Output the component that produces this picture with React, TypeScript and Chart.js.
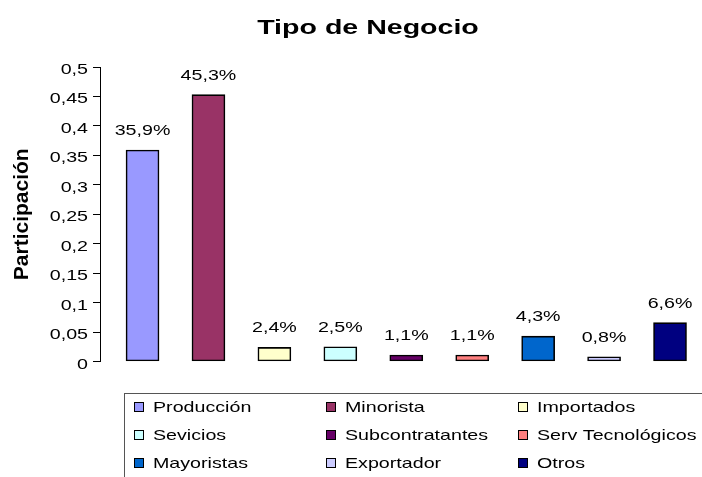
import React, { useEffect, useRef } from 'react';
import { Chart, registerables } from 'chart.js';

Chart.register(...registerables);

const chartTitle = 'Tipo de Negocio';
const yAxisTitle = 'Participación';
const categories = [
  'Producción',
  'Minorista',
  'Importados',
  'Sevicios',
  'Subcontratantes',
  'Serv Tecnológicos',
  'Mayoristas',
  'Exportador',
  'Otros',
];
const values = [0.359, 0.453, 0.024, 0.025, 0.011, 0.011, 0.043, 0.008, 0.066];
const barColors = [
  '#9999FF',
  '#993366',
  '#FFFFCC',
  '#CCFFFF',
  '#660066',
  '#FF8080',
  '#0066CC',
  '#CCCCFF',
  '#000080',
];
const yTickValues = [0, 0.05, 0.1, 0.15, 0.2, 0.25, 0.3, 0.35, 0.4, 0.45, 0.5];
const yTickLabels = ['0', '0,05', '0,1', '0,15', '0,2', '0,25', '0,3', '0,35', '0,4', '0,45', '0,5'];

const FONT = '"Liberation Sans", Arial, Helvetica, sans-serif';

function fmtPct(v: number) {
  return (v * 100).toFixed(1).replace('.', ',') + '%';
}

function stretchText(
  ctx: CanvasRenderingContext2D,
  text: string,
  x: number,
  y: number,
  align: CanvasTextAlign,
  font: string,
  sx: number
) {
  ctx.save();
  ctx.font = font;
  ctx.fillStyle = '#000';
  ctx.textAlign = align;
  ctx.textBaseline = 'alphabetic';
  ctx.translate(x, y);
  ctx.scale(sx, 1);
  ctx.fillText(text, 0, 0);
  ctx.restore();
}

const textPlugin = {
  id: 'refText',
  afterDraw(chart: any) {
    const ctx: CanvasRenderingContext2D = chart.ctx;
    const small = `15px ${FONT}`;
    const SX = 1.31;
    // title
    stretchText(ctx, chartTitle, 368, 34, 'center', `bold 21px ${FONT}`, 1.36);
    // y tick labels
    const ys = chart.scales.y;
    yTickValues.forEach((v, i) => {
      stretchText(ctx, yTickLabels[i], 88, ys.getPixelForValue(v) + 7, 'right', small, SX);
    });
    // value labels
    const meta = chart.getDatasetMeta(0);
    meta.data.forEach((bar: any, i: number) => {
      stretchText(ctx, fmtPct(values[i]), bar.x, bar.y - 15, 'center', small, SX);
    });
    // legend
    ctx.save();
    ctx.strokeStyle = '#555';
    ctx.lineWidth = 1;
    ctx.strokeRect(124.5, 393.5, 700, 200);
    ctx.restore();
    categories.forEach((c, i) => {
      const col = i % 3;
      const row = Math.floor(i / 3);
      const tx = 153 + col * 192;
      const cy = 407 + row * 28;
      const sx = tx - 19;
      const sy = cy - 5;
      ctx.save();
      ctx.fillStyle = barColors[i];
      ctx.fillRect(sx, sy, 10, 10);
      ctx.strokeStyle = '#000';
      ctx.lineWidth = 1;
      ctx.strokeRect(sx + 0.5, sy + 0.5, 9, 9);
      ctx.restore();
      stretchText(ctx, c, tx, cy + 5, 'left', small, SX);
    });
  },
};

export default function App() {
  const ref = useRef<HTMLCanvasElement>(null);

  useEffect(() => {
    const canvas = ref.current;
    if (!canvas) return;
    const chart = new Chart(canvas, {
      type: 'bar',
      data: {
        labels: categories,
        datasets: [
          {
            label: chartTitle,
            data: values.map((v, i) => ({ x: i, y: v })) as any,
            backgroundColor: barColors,
            borderColor: '#000',
            borderWidth: 1.6,
            borderSkipped: false,
            barThickness: 33,
          } as any,
        ],
      },
      options: {
        responsive: false,
        animation: false,
        devicePixelRatio: 1,
        layout: { padding: { top: 67, bottom: 115.5, left: 0, right: 0 } },
        plugins: {
          legend: { display: false },
          title: { display: false },
          tooltip: { enabled: false },
        },
        scales: {
          x: {
            type: 'linear',
            offset: false,
            min: -0.645,
            max: 8.485,
            display: false,
          },
          y: {
            type: 'linear',
            min: 0,
            max: 0.5,
            ticks: { display: false, stepSize: 0.05 },
            afterBuildTicks: (scale: any) => {
              scale.ticks = yTickValues.map((v) => ({ value: v }));
            },
            afterFit: (scale: any) => {
              scale.width = 100;
            },
            grid: {
              drawOnChartArea: false,
              drawTicks: true,
              tickLength: 7,
              color: '#000',
              lineWidth: 1,
            },
            border: { display: true, color: '#000', width: 1 },
            title: {
              display: true,
              text: yAxisTitle,
              color: '#000',
              font: { family: FONT, size: 21, weight: 'bold' },
              padding: { top: 10, bottom: 0 },
            },
          },
        },
      } as any,
      plugins: [textPlugin],
    });
    return () => chart.destroy();
  }, []);

  return (
    <div style={{ position: 'absolute', left: 0, top: 0, width: 702, height: 477, background: '#fff' }}>
      <canvas ref={ref} width={702} height={477} style={{ display: 'block' }} />
    </div>
  );
}
